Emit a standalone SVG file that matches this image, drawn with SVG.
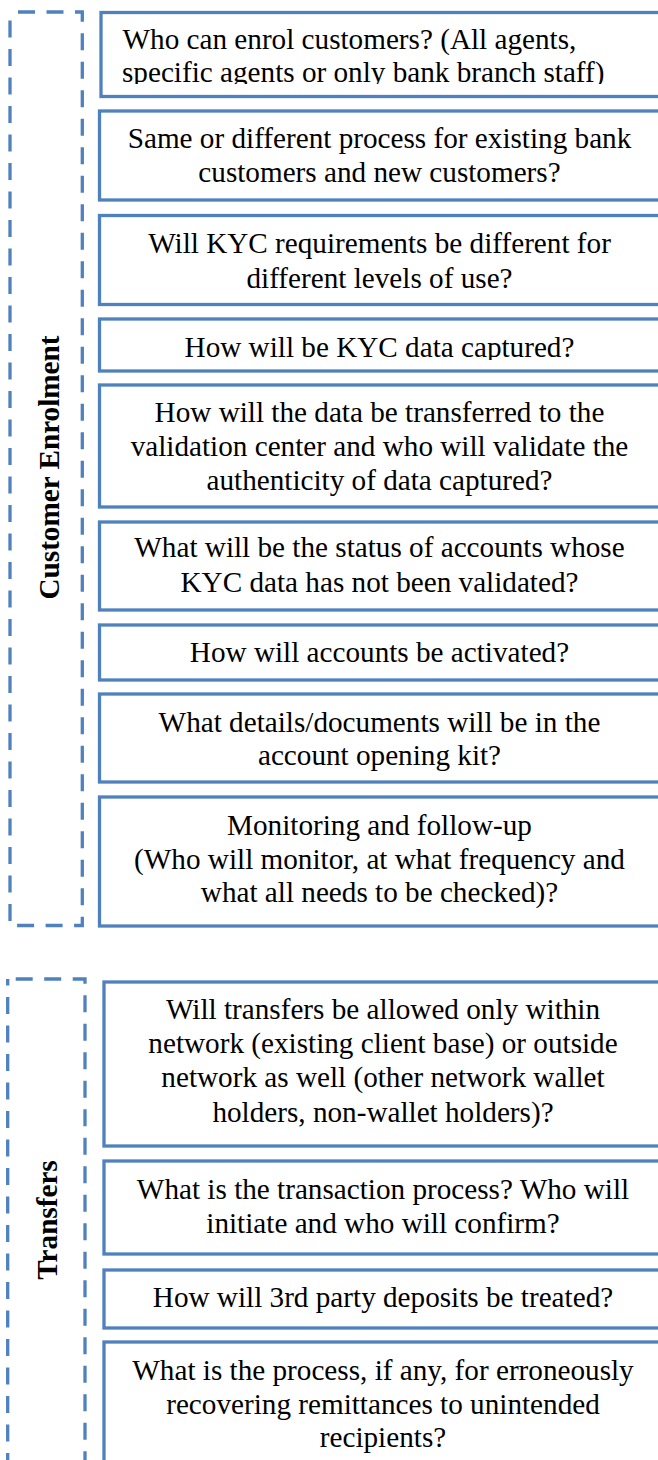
<svg xmlns="http://www.w3.org/2000/svg" width="658" height="1460" viewBox="0 0 658 1460">
  <style>
    .frame { fill: none; stroke: #4F81BD; stroke-width: 3.3; stroke-dasharray: 17 11.5; stroke-dashoffset: 20.5; }
    .box { fill: #FFFFFF; stroke: #4F81BD; stroke-width: 3.3; }
    .q { font-family: "Liberation Serif", "Times New Roman", serif; font-size: 29.2px; fill: #000000; text-anchor: middle; }
    .q.left { text-anchor: start; }
    .lbl { font-family: "Liberation Serif", "Times New Roman", serif; font-size: 29.2px; font-weight: bold; fill: #000000; text-anchor: middle; }
  </style>
  <defs>
    <clipPath id="clip-b1"><rect x="100" y="14" width="560" height="70"/></clipPath>
    <clipPath id="clip-b4"><rect x="100" y="320" width="560" height="40"/></clipPath>
  </defs>
  <rect width="658" height="1460" fill="#FFFFFF"/>

  <!-- Section: Customer Enrolment -->
  <g id="section-enrolment">
    <rect class="frame" x="10" y="12" width="72.3" height="913.5"/>
    <text class="lbl" transform="translate(58.5 467.5) rotate(-90)">Customer Enrolment</text>
  </g>

  <g id="enrol-who">
    <rect class="box" x="101" y="12.5" width="570" height="84"/>
    <g clip-path="url(#clip-b1)">
      <text class="q left" x="122.5" y="49.3">Who can enrol customers? (All agents,</text>
      <text class="q left" x="122" y="82.3">specific agents or only bank branch staff)</text>
    </g>
  </g>

  <g id="enrol-process">
    <rect class="box" x="99.5" y="111" width="570" height="89"/>
    <text class="q" x="379.5" y="148">Same or different process for existing bank</text>
    <text class="q" x="379.5" y="182.3">customers and new customers?</text>
  </g>

  <g id="enrol-kyc-levels">
    <rect class="box" x="99.5" y="215.5" width="570" height="89"/>
    <text class="q" x="379.5" y="253.3">Will KYC requirements be different for</text>
    <text class="q" x="379.5" y="287.8">different levels of use?</text>
  </g>

  <g id="enrol-kyc-capture">
    <rect class="box" x="99.5" y="319" width="570" height="52"/>
    <g clip-path="url(#clip-b4)">
      <text class="q" x="379.5" y="356.7">How will be KYC data captured?</text>
    </g>
  </g>

  <g id="enrol-validation">
    <rect class="box" x="99.5" y="385" width="570" height="122"/>
    <text class="q" x="379.5" y="421.7">How will the data be transferred to the</text>
    <text class="q" x="379.5" y="455.5">validation center and who will validate the</text>
    <text class="q" x="379.5" y="489.7">authenticity of data captured?</text>
  </g>

  <g id="enrol-status">
    <rect class="box" x="99.5" y="522" width="570" height="88"/>
    <text class="q" x="379.5" y="557">What will be the status of accounts whose</text>
    <text class="q" x="379.5" y="592.3">KYC data has not been validated?</text>
  </g>

  <g id="enrol-activation">
    <rect class="box" x="99.5" y="625" width="570" height="55"/>
    <text class="q" x="379.5" y="661.7">How will accounts be activated?</text>
  </g>

  <g id="enrol-kit">
    <rect class="box" x="99.5" y="694" width="570" height="88"/>
    <text class="q" x="379.5" y="731.7">What details/documents will be in the</text>
    <text class="q" x="379.5" y="765.3">account opening kit?</text>
  </g>

  <g id="enrol-monitoring">
    <rect class="box" x="99.5" y="797" width="570" height="129"/>
    <text class="q" x="379.5" y="835">Monitoring and follow-up</text>
    <text class="q" x="379.5" y="868.5">(Who will monitor, at what frequency and</text>
    <text class="q" x="379.5" y="902">what all needs to be checked)?</text>
  </g>

  <!-- Section: Transfers -->
  <g id="section-transfers">
    <rect class="frame" x="7.7" y="979" width="77.3" height="500"/>
    <text class="lbl" transform="translate(57 1220) rotate(-90)">Transfers</text>
  </g>

  <g id="transfer-scope">
    <rect class="box" x="104" y="982" width="570" height="164"/>
    <text class="q" x="383" y="1018.5">Will transfers be allowed only within</text>
    <text class="q" x="383" y="1052.8">network (existing client base) or outside</text>
    <text class="q" x="383" y="1087">network as well (other network wallet</text>
    <text class="q" x="383" y="1121.5">holders, non-wallet holders)?</text>
  </g>

  <g id="transfer-process">
    <rect class="box" x="104" y="1161" width="570" height="93"/>
    <text class="q" x="383" y="1198.5">What is the transaction process? Who will</text>
    <text class="q" x="383" y="1232.7">initiate and who will confirm?</text>
  </g>

  <g id="transfer-deposits">
    <rect class="box" x="104" y="1270" width="570" height="58"/>
    <text class="q" x="383" y="1306.7">How will 3rd party deposits be treated?</text>
  </g>

  <g id="transfer-recovery">
    <rect class="box" x="104" y="1342" width="570" height="200"/>
    <text class="q" x="383" y="1380">What is the process, if any, for erroneously</text>
    <text class="q" x="383" y="1413.5">recovering remittances to unintended</text>
    <text class="q" x="383" y="1447">recipients?</text>
  </g>

  <!-- No links between items; group kept for structure -->
  <g id="connectors"/>
</svg>
